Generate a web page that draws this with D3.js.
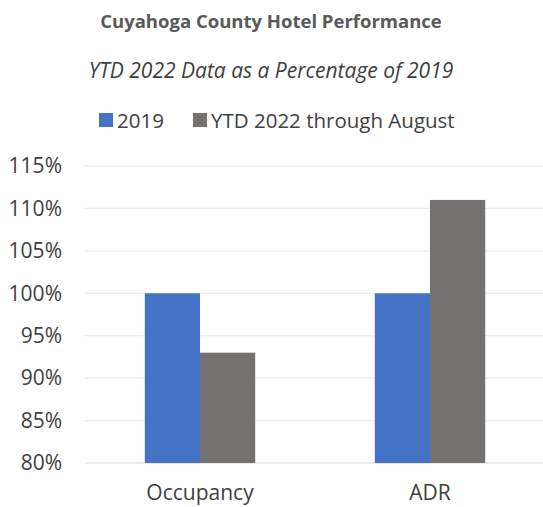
<!DOCTYPE html>
<html lang="en">
<head>
	<meta charset="UTF-8">
	<script src="https://d3js.org/d3.v7.min.js"></script>
	<title>Cuyahoga County Hotel Performance</title>
	<style>
		body { margin: 0; background: #fff; }
		text { font-family: "Open Sans", "Noto Sans", sans-serif; }
	</style>
</head>
<body>
<svg id="chart" width="543" height="507"></svg>
<script>
	const categories = ["Occupancy", "ADR"];
	const seriesNames = ["2019", "YTD 2022 through August"];
	const values2019 = [100, 100];
	const valuesYTD2022 = [93, 111];
	const yTicks = [80, 85, 90, 95, 100, 105, 110, 115];

	const colors = ["#4472C4", "#767171"];

	const svg = d3.select("#chart");
	const margin = {left: 85, right: -2, top: 166, bottom: 44};
	const width = 543, height = 507;

	const x = d3.scaleBand()
		.domain(categories)
		.range([margin.left, width - margin.right])
		.paddingInner(0.52)
		.paddingOuter(0.26);

	const xSub = d3.scaleBand()
		.domain(seriesNames)
		.range([0, x.bandwidth()]);

	const y = d3.scaleLinear()
		.domain([80, 115])
		.range([height - margin.bottom, margin.top]);

	// gridlines
	svg.append("g")
		.selectAll("line")
		.data(yTicks)
		.join("line")
		.attr("x1", margin.left)
		.attr("x2", width)
		.attr("y1", d => y(d))
		.attr("y2", d => y(d))
		.attr("stroke", d => d === 80 ? "#d9d9d9" : "#ececec")
		.attr("stroke-width", 1.2);

	// bars
	const rows = categories.map((c, i) => ({cat: c, vals: [values2019[i], valuesYTD2022[i]]}));
	svg.append("g")
		.selectAll("g")
		.data(rows)
		.join("g")
		.attr("transform", d => "translate(" + x(d.cat) + ",0)")
		.selectAll("rect")
		.data(d => d.vals.map((v, j) => ({key: seriesNames[j], v: v, j: j})))
		.join("rect")
		.attr("x", d => xSub(d.key))
		.attr("width", xSub.bandwidth())
		.attr("y", d => y(d.v))
		.attr("height", d => y(80) - y(d.v))
		.attr("fill", d => colors[d.j]);

	// y axis labels
	const yAxis = d3.axisLeft(y)
		.tickValues(yTicks)
		.tickFormat(d => d + "%")
		.tickSize(0)
		.tickPadding(0);
	const ya = svg.append("g")
		.attr("transform", "translate(62,0)")
		.call(yAxis);
	ya.select(".domain").remove();
	ya.selectAll("text")
		.attr("font-size", "21px")
		.attr("font-family", "'Open Sans', sans-serif")
		.attr("fill", "#404040");

	// x axis labels
	const xAxis = d3.axisBottom(x).tickSize(0).tickPadding(0);
	const xa = svg.append("g")
		.attr("transform", "translate(0," + (y(80) + 22) + ")")
		.call(xAxis);
	xa.select(".domain").remove();
	xa.selectAll("text")
		.attr("font-size", "21px")
		.attr("font-family", "'Open Sans', sans-serif")
		.attr("fill", "#404040");

	// titles
	svg.append("text")
		.attr("x", 271)
		.attr("y", 28)
		.attr("text-anchor", "middle")
		.attr("font-size", "18.5px")
		.attr("font-weight", "bold")
		.attr("fill", "#595959")
		.text("Cuyahoga County Hotel Performance");

	svg.append("text")
		.attr("x", 271)
		.attr("y", 78)
		.attr("text-anchor", "middle")
		.attr("font-size", "21px")
		.attr("font-style", "italic")
		.attr("fill", "#404040")
		.text("YTD 2022 Data as a Percentage of 2019");

	// legend
	const legendX = [99, 193];
	const legend = svg.append("g")
		.selectAll("g")
		.data(seriesNames)
		.join("g")
		.attr("transform", (d, i) => "translate(" + legendX[i] + ",113)");
	legend.append("rect")
		.attr("width", 14)
		.attr("height", 14)
		.attr("fill", (d, i) => colors[i]);
	legend.append("text")
		.attr("x", 18)
		.attr("y", 15)
		.attr("font-size", "20.5px")
		.attr("fill", "#404040")
		.text(d => d);
</script>
</body>
</html>
